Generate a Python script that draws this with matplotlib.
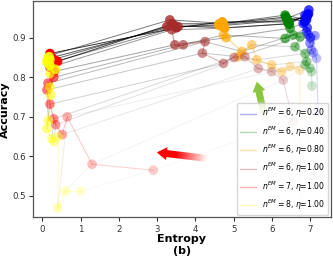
import numpy as np
import matplotlib
matplotlib.use("Agg")
import matplotlib.pyplot as plt
from matplotlib.lines import Line2D
from matplotlib.patches import Polygon

# -----------------------------
# Data: (entropy, accuracy) per epoch, early -> late
# -----------------------------
blue_x = [7.20, 7.16, 7.08, 7.03, 7.12, 6.99, 6.95, 7.00, 6.90, 6.92, 6.81, 6.86,
          6.96, 6.90, 6.88, 6.95, 6.85, 6.92]
blue_y = [0.713, 0.848, 0.862, 0.869, 0.905, 0.886, 0.907, 0.900, 0.915, 0.925, 0.936, 0.957,
          0.970, 0.945, 0.950, 0.960, 0.940, 0.955]

green_x = [7.04, 7.03, 6.99, 6.86, 6.90, 6.86, 6.60, 6.73, 6.55, 6.34, 6.47, 6.42,
           6.38, 6.34, 6.40, 6.45, 6.36, 6.42]
green_y = [0.778, 0.814, 0.823, 0.831, 0.840, 0.860, 0.877, 0.902, 0.907, 0.898, 0.924, 0.936,
           0.949, 0.957, 0.945, 0.935, 0.952, 0.940]

orange_x = [6.75, 6.72, 6.47, 6.25, 5.99, 5.60, 5.47, 5.12, 5.21, 4.73, 4.80, 4.77,
            4.60, 4.73, 4.65, 4.75, 4.62, 4.70]
orange_y = [0.420, 0.818, 0.827, 0.814, 0.831, 0.844, 0.882, 0.852, 0.865, 0.907, 0.900, 0.924,
            0.932, 0.936, 0.930, 0.925, 0.935, 0.940]

brown_x = [6.55, 6.29, 5.99, 5.64, 5.29, 5.01, 4.73, 4.18, 4.25, 3.68, 3.46, 3.38,
           3.55, 3.33, 3.25, 3.46, 3.40, 3.50]
brown_y = [0.687, 0.793, 0.814, 0.822, 0.852, 0.850, 0.835, 0.861, 0.890, 0.882, 0.882, 0.920,
           0.928, 0.945, 0.928, 0.930, 0.935, 0.925]

red_x = [2.90, 1.30, 0.65, 0.52, 0.35, 0.30, 0.20, 0.12, 0.15, 0.30, 0.32, 0.20,
         0.35, 0.20, 0.30, 0.25, 0.40, 0.20]
red_y = [0.565, 0.580, 0.700, 0.655, 0.680, 0.695, 0.732, 0.768, 0.785, 0.800, 0.815, 0.825,
         0.840, 0.855, 0.845, 0.850, 0.840, 0.860]

yellow_x = [1.00, 0.60, 0.40, 0.42, 0.30, 0.25, 0.12, 0.16, 0.22, 0.20, 0.20, 0.35,
            0.15, 0.18, 0.20, 0.12, 0.20, 0.15]
yellow_y = [0.512, 0.512, 0.470, 0.650, 0.637, 0.645, 0.670, 0.690, 0.755, 0.775, 0.810, 0.820,
            0.835, 0.852, 0.845, 0.840, 0.830, 0.850]

labels = [r'$n^{EM}=6$, $\eta$=0.20', r'$n^{EM}=6$, $\eta$=0.40', r'$n^{EM}=6$, $\eta$=0.80',
          r'$n^{EM}=6$, $\eta$=1.00', r'$n^{EM}=7$, $\eta$=1.00', r'$n^{EM}=8$, $\eta$=1.00']
colors = ['blue', 'green', 'orange', 'brown', 'red', 'yellow']
xs = [blue_x, green_x, orange_x, brown_x, red_x, yellow_x]
ys = [blue_y, green_y, orange_y, brown_y, red_y, yellow_y]

# order of the chain that links the same epoch across runs
chain = [5, 4, 3, 2, 1, 0]

n_ep = len(blue_x)
alphas = np.linspace(0.2, 1.0, n_ep)

# -----------------------------
# Figure
# -----------------------------
fig = plt.figure(figsize=(3.33, 2.57), dpi=100)
ax = fig.add_axes([0.10, 0.1545, 0.893, 0.8405])
ax.set_xlim(-0.235, 7.53)
ax.set_ylim(0.446, 0.992)

# epoch links between runs
for i in range(n_ep):
    cx = [xs[k][i] for k in chain]
    cy = [ys[k][i] for k in chain]
    ax.plot(cx, cy, color='black', lw=0.7, alpha=alphas[i] ** 2 * 0.8, zorder=1)

# each run's trajectory
for k in range(len(colors)):
    for i in range(n_ep - 1):
        ax.plot(xs[k][i:i + 2], ys[k][i:i + 2], color=colors[k], lw=0.8,
                alpha=alphas[i + 1] * 0.7, zorder=2)
    for i in range(n_ep):
        ax.scatter(xs[k][i], ys[k][i], s=48, color=colors[k], alpha=alphas[i],
                   edgecolors='none', zorder=3)


# gradient arrows
def grad_arrow(ax, tail, head, color, shaft_w=7, head_w=13, head_len=10):
    T = ax.transData
    inv = T.inverted()
    p0 = T.transform(tail)
    p1 = T.transform(head)
    d = p1 - p0
    L = np.hypot(*d)
    u = d / L
    nrm = np.array([-u[1], u[0]])
    base = p1 - u * head_len
    outline = [p0 + nrm * shaft_w / 2, base + nrm * shaft_w / 2, base + nrm * head_w / 2, p1,
               base - nrm * head_w / 2, base - nrm * shaft_w / 2, p0 - nrm * shaft_w / 2]
    outline = inv.transform(np.array(outline))
    patch = Polygon(outline, closed=True, facecolor='none', edgecolor='none')
    ax.add_patch(patch)
    x0, y0 = outline.min(axis=0)
    x1, y1 = outline.max(axis=0)
    gx, gy = np.meshgrid(np.linspace(x0, x1, 200), np.linspace(y0, y1, 200))
    pix = T.transform(np.column_stack([gx.ravel(), gy.ravel()]))
    s = ((pix - p0) @ u) / (L - head_len)
    a = np.clip(s * 1.4 - 0.1, 0, 1).reshape(gx.shape)
    rgba = np.zeros(gx.shape + (4,))
    rgba[..., :3] = matplotlib.colors.to_rgb(color)
    rgba[..., 3] = a
    im = ax.imshow(rgba, extent=[x0, x1, y0, y1], origin='lower', aspect='auto',
                   interpolation='bilinear', zorder=4)
    im.set_clip_path(patch)


grad_arrow(ax, (4.38, 0.594), (2.99, 0.610), 'red')
grad_arrow(ax, (5.86, 0.675), (5.60, 0.789), '#8cc63f')

ax.set_xlim(-0.235, 7.53)
ax.set_ylim(0.446, 0.992)

ax.set_xticks(range(8))
ax.set_yticks([0.5, 0.6, 0.7, 0.8, 0.9])
ax.tick_params(labelsize=6.2, colors='#333333', length=3, width=0.8, pad=2.5)
for sp in ax.spines.values():
    sp.set_color('#555555')
    sp.set_linewidth(0.9)

ax.set_xlabel('Entropy\n(b)', fontsize=8, fontweight='bold', labelpad=0)
ax.set_ylabel('Accuracy', fontsize=8, fontweight='bold')
ax.yaxis.set_label_coords(-0.077, 0.5)

handles = [Line2D([0], [0], color=c, lw=1, alpha=0.3) for c in colors]
leg = ax.legend(handles, labels, loc='lower right', fontsize=5.6, borderaxespad=0.3)
leg.set_zorder(10)

fig.savefig("out.png", dpi=100)
